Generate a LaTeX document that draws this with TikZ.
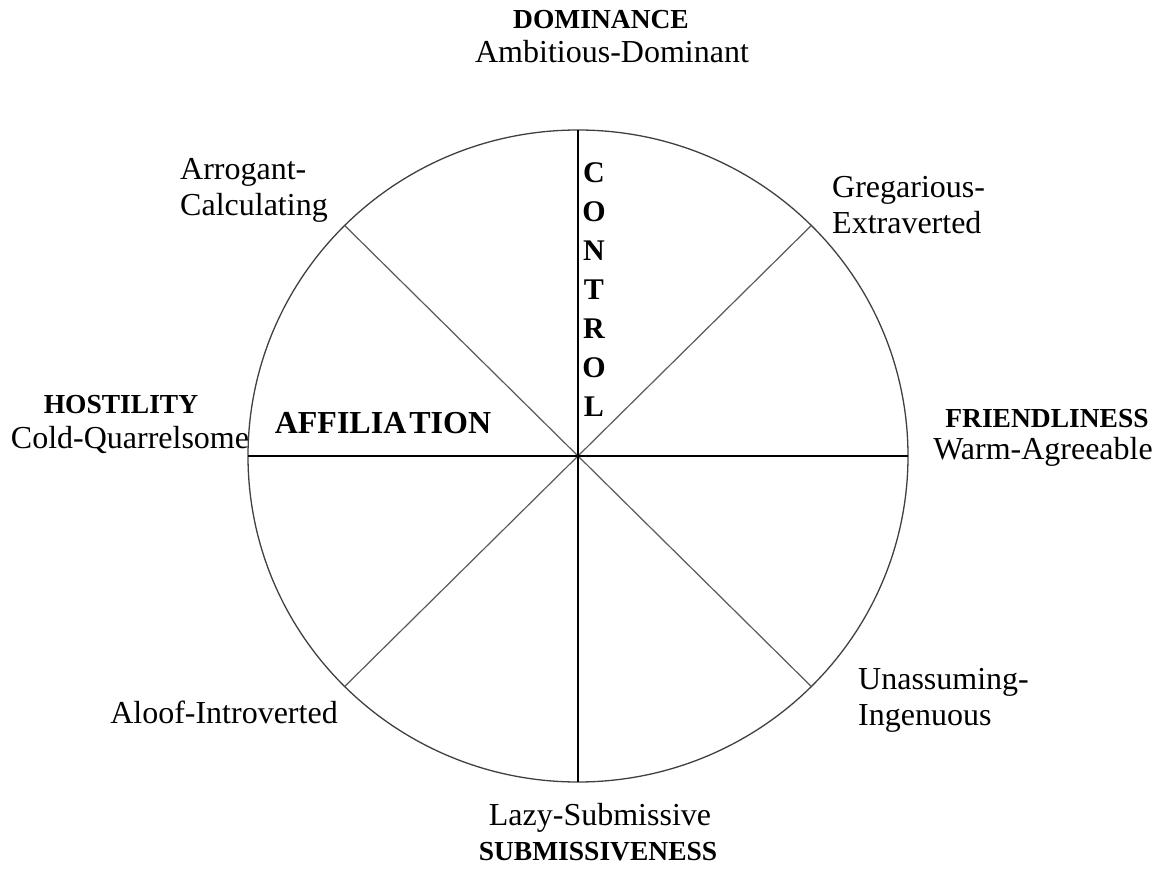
\documentclass[tikz,border=0pt]{standalone}
\usepackage{fontspec}
\setmainfont{Liberation Serif}
\usetikzlibrary{calc}
\begin{document}
\begin{tikzpicture}[x=1pt,y=-1pt,
  reg/.style={font=\fontsize{32}{36}\selectfont, inner sep=0pt},
  bld/.style={font=\fontsize{27.5}{32}\bfseries\selectfont, inner sep=0pt},
  ring/.style={line width=1.3pt, draw=black!75},
  spoke/.style={line width=1.2pt, draw=black!65},
  axis/.style={line width=1.3pt, draw=black}]
\useasboundingbox (0,0) rectangle (1163,869);
\coordinate (c) at (578,456);
\foreach \a/\n in {0/e,45/ne,90/n,135/nw,180/w,225/sw,270/s,315/se}
  \coordinate (\n) at ($(c)+(\a:330 and 326)$);
\draw[ring] (c) ellipse [x radius=330, y radius=326];
\draw[spoke] (ne) -- (sw);
\draw[spoke] (nw) -- (se);
\draw[axis] (w) -- (e);
\draw[axis] (n) -- (s);
% labels
\node[bld] (dom) at (601,20) {DOMINANCE};
\node[reg] (ambd) at (612,52) {Ambitious-Dominant};
\node[reg, align=left, anchor=west] (arr) at (180,190) {Arrogant-\\Calculating};
\node[reg, align=left, anchor=west] (greg) at (832,205) {Gregarious-\\Extraverted};
\node[bld] (host) at (121,405) {HOSTILITY};
\node[reg] (cold) at (130,440) {Cold-Quarrelsome};
\node[bld] (fri) at (1047,419) {FRIENDLINESS};
\node[reg] (warm) at (1043,452) {Warm-Agreeable};
\node[font=\fontsize{32}{36}\bfseries\selectfont, inner sep=0pt] (aff) at (383,423) {AFFILIA\kern3pt TION};
\node[font=\fontsize{30}{39}\bfseries\selectfont, inner sep=0pt, align=center] (ctl) at (594,290) {C\\O\\N\\T\\R\\O\\L};
\node[reg, align=left, anchor=west] (una) at (858,700) {Unassuming-\\Ingenuous};
\node[reg] (aloof) at (224,712) {Aloof-Introverted};
\node[reg] (lazy) at (600,818) {Lazy-Submissive};
\node[bld] (sub) at (598,852) {SUBMISSIVENESS};
\end{tikzpicture}
\end{document}
